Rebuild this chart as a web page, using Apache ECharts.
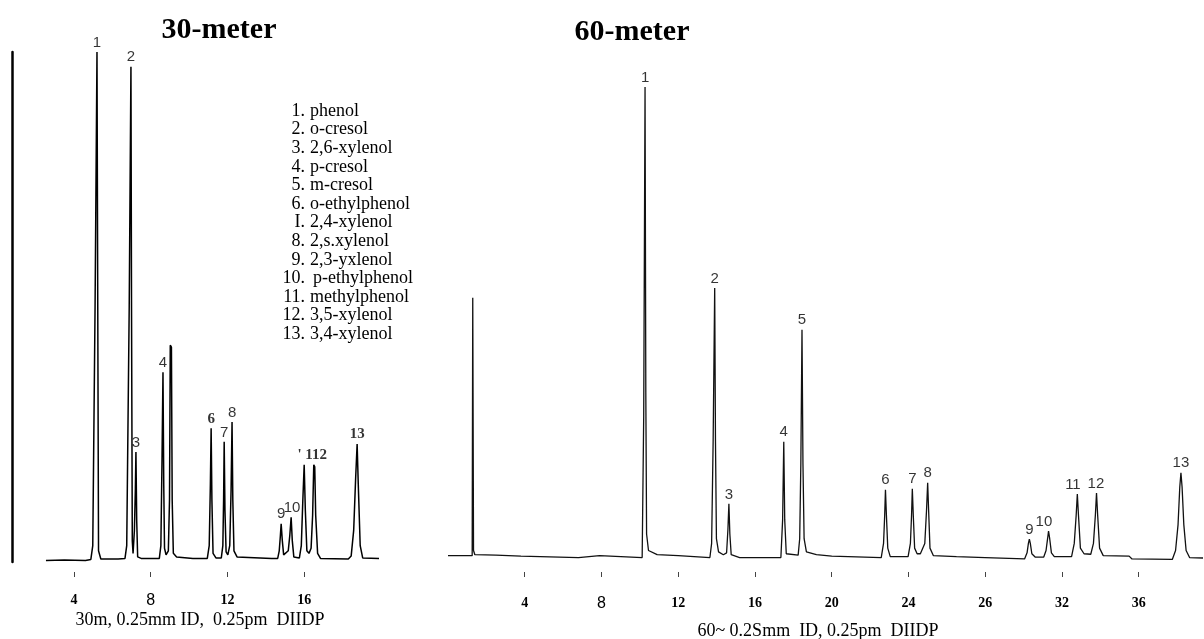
<!DOCTYPE html>
<html lang="en">
  <head>
    <meta charset="UTF-8" />
    <title>Phenols on 30 m and 60 m columns</title>
    <script src="https://cdn.jsdelivr.net/npm/echarts@6/dist/echarts.min.js"></script>
    <style>
      html, body { margin: 0; padding: 0; background: #fff; }
      #main { width: 1204px; height: 639px; }
    </style>
  </head>
  <body>
    <div id="main"></div>
    <script>
      // time in minutes, response in % of the phenol peak of each run

      // 30-meter column trace
      var shortTrace = [
        [2.54, 0.1], [3.5, 0.2], [4.6, 0.1], [4.88, 0.3], [4.98, 3], [5.1, 50], [5.2, 100], [5.24, 50],
        [5.28, 2], [5.4, 0.4], [6.3, 0.4], [6.66, 0.5], [6.75, 3], [6.88, 50], [6.97, 97.1], [7.0, 50],
        [7.04, 4], [7.08, 1.5], [7.15, 6], [7.2, 14], [7.23, 21.4], [7.27, 8], [7.32, 0.8], [7.5, 0.5],
        [8.45, 0.5], [8.53, 3], [8.59, 20], [8.64, 37.1], [8.68, 15], [8.72, 2.5], [8.8, 1.2], [8.92, 2],
        [8.98, 12], [9.02, 42.4], [9.08, 42.0], [9.12, 12], [9.18, 1.5], [9.35, 0.8], [10.2, 0.5],
        [10.95, 0.5], [11.05, 3], [11.11, 15], [11.15, 26.1], [11.19, 12], [11.25, 1.5], [11.4, 0.6],
        [11.68, 0.6], [11.76, 3], [11.8, 12], [11.83, 23.4], [11.87, 10], [11.93, 1.8], [12.02, 1.2],
        [12.12, 3], [12.19, 14], [12.24, 27.3], [12.28, 12], [12.34, 2], [12.5, 0.8], [14.3, 0.5],
        [14.62, 0.5], [14.7, 2], [14.76, 5], [14.8, 7.3], [14.86, 4], [14.93, 1.2], [15.0, 1.0],
        [15.17, 2], [15.25, 5], [15.32, 8.6], [15.38, 4], [15.46, 0.8], [15.75, 0.6], [15.85, 3],
        [15.93, 12], [16.0, 18.9], [16.06, 10], [16.14, 2], [16.25, 1.5], [16.36, 2.5], [16.44, 9],
        [16.5, 18.9], [16.55, 18.5], [16.6, 9], [16.7, 1.5], [16.85, 0.5], [18.3, 0.4], [18.45, 1],
        [18.58, 6], [18.68, 16], [18.76, 23], [18.82, 15], [18.92, 3], [19.05, 0.6], [19.9, 0.5]
      ];

      // 60-meter column trace
      var longTrace = [
        [0, 0.4], [1.26, 0.4], [1.29, 55.2], [1.33, 1.5], [1.4, 0.6], [2.5, 0.5], [3.8, 0.3], [3.85, 0],
        [6.8, 0], [6.85, 0.4], [7.9, 0.4], [7.95, 0], [10.12, 0], [10.2, 30], [10.27, 100], [10.31, 35],
        [10.35, 5], [10.45, 1.5], [10.9, 0.6], [12.0, 0.4], [12.05, 0], [13.65, 0], [13.74, 3],
        [13.82, 25], [13.9, 57.3], [13.94, 25], [13.99, 4], [14.1, 1.2], [14.35, 0.6], [14.52, 1],
        [14.59, 6], [14.64, 11.4], [14.69, 5], [14.76, 0.6], [15.2, 0], [17.35, 0], [17.44, 8],
        [17.5, 24.6], [17.55, 8], [17.63, 0.8], [18.25, 0.5], [18.33, 4], [18.39, 20], [18.45, 48.4],
        [18.5, 20], [18.56, 4], [18.68, 1.2], [19.2, 0.6], [20.0, 0.3], [20.1, 0], [22.58, 0],
        [22.7, 3], [22.76, 9], [22.8, 14.4], [22.85, 9], [22.92, 2], [23.05, 0.2], [23.98, 0.2],
        [24.1, 3], [24.16, 9], [24.2, 14.6], [24.25, 9], [24.32, 2], [24.45, 0.8], [24.62, 0.8],
        [24.85, 3], [24.94, 10], [25.0, 15.9], [25.05, 10], [25.12, 2], [25.3, 0.4], [26.5, 0.2],
        [28.0, 0], [28.05, -0.3], [30.05, -0.3], [30.18, 1], [30.25, 3], [30.3, 3.9], [30.35, 3],
        [30.43, 0.8], [30.6, 0.1], [31.05, 0.1], [31.17, 1.5], [31.25, 4], [31.3, 5.6], [31.36, 4],
        [31.45, 1], [31.6, 0.2], [32.5, 0.2], [32.64, 3], [32.74, 9], [32.8, 13.5], [32.86, 9],
        [32.96, 2], [33.15, 0.8], [33.5, 0.7], [33.64, 3], [33.74, 9], [33.8, 13.7], [33.86, 9],
        [33.96, 2], [34.15, 0.4], [35.5, 0.3], [35.65, -0.3], [37.75, -0.4], [37.92, 1.5], [38.05, 7],
        [38.14, 15], [38.2, 18], [38.26, 15], [38.35, 7], [38.47, 1.5], [38.65, 0], [39.35, -0.1]
      ];

      // peak numbers as printed above the peaks
      var shortPeakText = ["1", "2", "3", "4", "6", "7", "8", "9", "10", "' 112", "13"];
      var shortPeakTime = [5.2, 6.97, 7.23, 8.64, 11.15, 11.83, 12.24, 14.8, 15.37, 16.42, 18.76];
      var shortPeakHeight = [100, 97.1, 21.4, 37.1, 26.1, 23.4, 27.3, 7.3, 8.6, 18.9, 23];
      var shortBoldText = ["6", "' 112", "13"];

      var longPeakText = ["1", "2", "3", "4", "5", "6", "7", "8", "9", "10", "11", "12", "13"];
      var longPeakTime = [10.27, 13.9, 14.64, 17.5, 18.45, 22.8, 24.2, 25.0, 30.3, 31.06, 32.57, 33.77, 38.2];
      var longPeakHeight = [100, 57.3, 11.4, 24.6, 48.4, 14.4, 14.6, 15.9, 3.9, 5.6, 13.5, 13.7, 18];

      // tick marks and their printed labels
      var shortTicks = [4, 8, 12, 16];
      var longTicks = [4, 8, 12, 16, 20, 24, 28, 32, 36];
      var longTickText = ["4", "8", "12", "16", "20", "24", "26", "32", "36"];

      var compoundNo = ["1.", "2.", "3.", "4.", "5.", "6.", "I.", "8.", "9.", "10.", "11.", "12.", "13."];
      var compoundName = ["phenol", "o-cresol", "2,6-xylenol", "p-cresol", "m-cresol", "o-ethylphenol",
        "2,4-xylenol", "2,s.xylenol", "2,3-yxlenol", "p-ethylphenol", "methylphenol", "3,5-xylenol", "3,4-xylenol"];

      var serif = '"Liberation Serif", "DejaVu Serif", serif';
      var sans = '"Liberation Sans", Arial, sans-serif';

      var tickRich = {
        b: { fontFamily: serif, fontWeight: "bold", fontSize: 14, color: "#000" },
        s: { fontFamily: sans, fontSize: 16, color: "#000" }
      };

      function peakLabels(texts, times, heights, boldList) {
        return texts.map(function (t, i) {
          var item = { name: t, value: [times[i], heights[i]] };
          if (boldList && boldList.indexOf(t) >= 0) {
            item.label = { fontFamily: serif, fontWeight: "bold", fontSize: 15 };
          }
          return item;
        });
      }

      var graphics = [
        { type: "text", x: 219, y: 30, style: { text: "30-meter", font: "bold 30px " + serif, fill: "#000", align: "center", verticalAlign: "middle" } },
        { type: "text", x: 632, y: 32, style: { text: "60-meter", font: "bold 30px " + serif, fill: "#000", align: "center", verticalAlign: "middle" } },
        { type: "text", x: 200, y: 620, style: { text: "30m, 0.25mm ID,  0.25pm  DIIDP", font: "18px " + serif, fill: "#000", align: "center", verticalAlign: "middle" } },
        { type: "text", x: 818, y: 631, style: { text: "60~ 0.2Smm  ID, 0.25pm  DIIDP", font: "18px " + serif, fill: "#000", align: "center", verticalAlign: "middle" } }
      ];
      compoundName.forEach(function (name, i) {
        var y = 111 + i * 18.6;
        graphics.push({ type: "text", x: 305, y: y, style: { text: compoundNo[i], font: "18px " + serif, fill: "#000", align: "right", verticalAlign: "middle" } });
        graphics.push({ type: "text", x: i === 9 ? 313 : 310, y: y, style: { text: name, font: "18px " + serif, fill: "#000", align: "left", verticalAlign: "middle" } });
      });

      var myChart = echarts.init(document.getElementById("main"));

      var option = {
        animation: false,
        backgroundColor: "#fff",
        graphic: graphics,
        grid: [
          { left: 12, top: 52, width: 367, height: 510 },
          { left: 448, top: 87, width: 755, height: 471 }
        ],
        xAxis: [
          {
            gridIndex: 0, type: "value", min: 0.77, max: 19.9, offset: 10,
            axisLine: { show: false, onZero: false },
            splitLine: { show: false },
            axisTick: { show: true, customValues: shortTicks, length: 5, lineStyle: { color: "#444" } },
            axisLabel: {
              customValues: shortTicks, margin: 21,
              formatter: function (v) { return v === 8 ? "{s|8}" : "{b|" + v + "}"; },
              rich: tickRich
            }
          },
          {
            gridIndex: 1, type: "value", min: 0, max: 39.35, offset: 14,
            axisLine: { show: false, onZero: false },
            splitLine: { show: false },
            axisTick: { show: true, customValues: longTicks, length: 5, lineStyle: { color: "#444" } },
            axisLabel: {
              customValues: longTicks, margin: 24,
              formatter: function (v) {
                var t = longTickText[longTicks.indexOf(v)];
                return t === "8" ? "{s|8}" : "{b|" + t + "}";
              },
              rich: tickRich
            }
          }
        ],
        yAxis: [
          {
            gridIndex: 0, type: "value", min: -0.2, max: 100,
            axisLine: { show: true, onZero: false, lineStyle: { color: "#000", width: 2.5 } },
            axisTick: { show: false }, axisLabel: { show: false }, splitLine: { show: false }
          },
          {
            gridIndex: 1, type: "value", min: -0.1, max: 100,
            axisLine: { show: false }, axisTick: { show: false }, axisLabel: { show: false }, splitLine: { show: false }
          }
        ],
        series: [
          {
            name: "30-meter", type: "line", xAxisIndex: 0, yAxisIndex: 0,
            data: shortTrace, showSymbol: false, clip: false,
            lineStyle: { color: "#000", width: 1.5 }
          },
          {
            name: "60-meter", type: "line", xAxisIndex: 1, yAxisIndex: 1,
            data: longTrace, showSymbol: false, clip: false,
            lineStyle: { color: "#111", width: 1.3 }
          },
          {
            type: "scatter", xAxisIndex: 0, yAxisIndex: 0, symbolSize: 0,
            data: peakLabels(shortPeakText, shortPeakTime, shortPeakHeight, shortBoldText),
            label: { show: true, position: "top", distance: 2, formatter: "{b}", fontFamily: sans, fontSize: 15, color: "#000" }
          },
          {
            type: "scatter", xAxisIndex: 1, yAxisIndex: 1, symbolSize: 0,
            data: peakLabels(longPeakText, longPeakTime, longPeakHeight),
            label: { show: true, position: "top", distance: 2, formatter: "{b}", fontFamily: sans, fontSize: 15, color: "#000" }
          }
        ]
      };

      myChart.setOption(option);
    </script>
  </body>
</html>
